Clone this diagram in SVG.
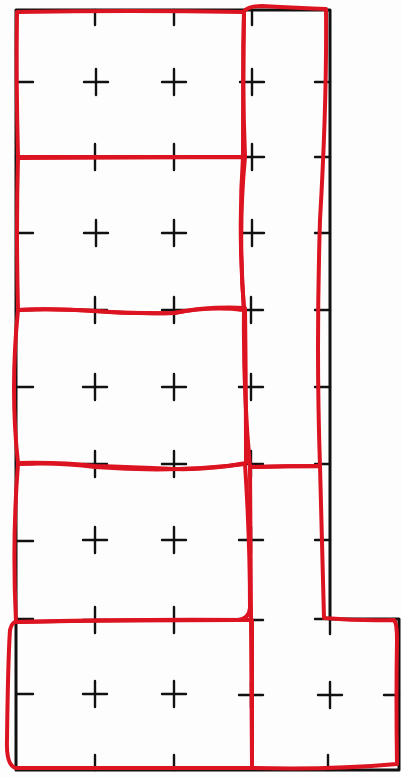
<svg xmlns="http://www.w3.org/2000/svg" width="402" height="778" viewBox="0 0 402 778">
<style>
.bg{fill:#fdfdfd}
.ol{fill:none;stroke:#111;stroke-width:3;stroke-linejoin:round}
.tk{fill:none;stroke:#111;stroke-width:2.4;stroke-linecap:round}
.rd{fill:none;stroke:#dc1320;stroke-width:4;stroke-linejoin:round;stroke-linecap:round}
</style>
<defs>
<path id="cross" class="tk" d="M-12,0H12M0,-13V13"/>
<path id="tr" class="tk" d="M0,0H17"/>
<path id="tl" class="tk" d="M0,0H-15"/>
<path id="td" class="tk" d="M0,0V15"/>
<path id="tu" class="tk" d="M0,0V-15"/>
</defs>
<rect class="bg" x="0" y="0" width="402" height="778"/>
<g id="outline">
<path class="ol" d="M16,10 H330 V619 H399 V770 H16 Z"/>
</g>
<g id="marks">
<use href="#td" x="95" y="10"/><use href="#td" x="174" y="10"/><use href="#td" x="252" y="10"/>
<use href="#tr" x="16" y="82"/><use href="#tr" x="16" y="157"/><use href="#tr" x="16" y="233"/><use href="#tr" x="16" y="310"/><use href="#tr" x="16" y="387"/><use href="#tr" x="16" y="464"/><use href="#tr" x="16" y="541"/><use href="#tr" x="16" y="619"/><use href="#tr" x="16" y="694"/>
<use href="#cross" x="96" y="82"/><use href="#cross" x="174" y="82"/><use href="#cross" x="252" y="82"/>
<use href="#cross" x="95" y="157"/><use href="#cross" x="174" y="157"/><use href="#cross" x="252" y="157"/>
<use href="#cross" x="96" y="233"/><use href="#cross" x="174" y="233"/><use href="#cross" x="252" y="233"/>
<use href="#cross" x="95" y="310"/><use href="#cross" x="174" y="310"/><use href="#cross" x="251" y="310"/>
<use href="#cross" x="95" y="387"/><use href="#cross" x="174" y="387"/><use href="#cross" x="251" y="387"/>
<use href="#cross" x="95" y="464"/><use href="#cross" x="174" y="464"/><use href="#cross" x="251" y="464"/>
<use href="#cross" x="95" y="540"/><use href="#cross" x="174" y="540"/><use href="#cross" x="251" y="540"/>
<use href="#cross" x="95" y="620"/><use href="#cross" x="174" y="620"/><use href="#cross" x="251" y="620"/>
<use href="#cross" x="95" y="694"/><use href="#cross" x="174" y="694"/><use href="#cross" x="251" y="695"/><use href="#cross" x="330" y="695"/>
<use href="#tl" x="330" y="82"/><use href="#tl" x="330" y="157"/><use href="#tl" x="330" y="233"/><use href="#tl" x="330" y="310"/><use href="#tl" x="330" y="387"/><use href="#tl" x="330" y="464"/><use href="#tl" x="330" y="540"/><use href="#tl" x="330" y="619"/>
<use href="#td" x="330" y="619"/><use href="#tl" x="399" y="695"/>
<use href="#tu" x="95" y="770"/><use href="#tu" x="174" y="770"/><use href="#tu" x="328" y="770"/>
</g>
<g id="room1"><path class="rd" d="M17,12 Q130,10 244,12 Q242,80 245,157 Q130,157 18,157 Q16,80 17,12 Z"/></g>
<g id="room2"><path class="rd" d="M18,158 Q130,157 245,157 Q238,230 244,310 Q210,306 174,313 Q130,314 95,311 Q50,308 18,310 Q16,230 18,158 Z"/></g>
<g id="room3"><path class="rd" d="M18,310 Q50,308 95,311 Q140,314 174,313 Q210,306 245,308 Q246,390 246,463 Q210,470 174,469 Q130,467 95,466 Q60,462 18,463 Q10,390 18,310 Z"/></g>
<g id="room4"><path class="rd" d="M18,464 Q60,462 95,467 Q174,473 245,464 Q250,540 250,608 Q249,619 238,620 Q130,620 16,622 Q12,540 18,464 Z"/></g>
<g id="room5"><path class="rd" d="M16,622 Q130,619 252,620 L252,768 Q130,768 16,768 Q6,766 7,740 Q8,660 10,630 Q12,622 16,622 Z"/></g>
<g id="room6"><path class="rd" d="M244,11 Q250,6 262,6 Q300,8 326,9 Q327,100 320,220 Q316,350 320,466 Q285,466 250,467 Q243,390 244,310 Q238,230 243,157 Q243,80 244,11 Z"/></g>
<g id="room7"><path class="rd" d="M250,467 Q285,466 320,466 Q322,540 324,618 Q360,621 394,620 Q397,623 397,640 Q396,700 397,764 Q330,770 252,768 Q251,620 250,467 Z"/></g>
</svg>
